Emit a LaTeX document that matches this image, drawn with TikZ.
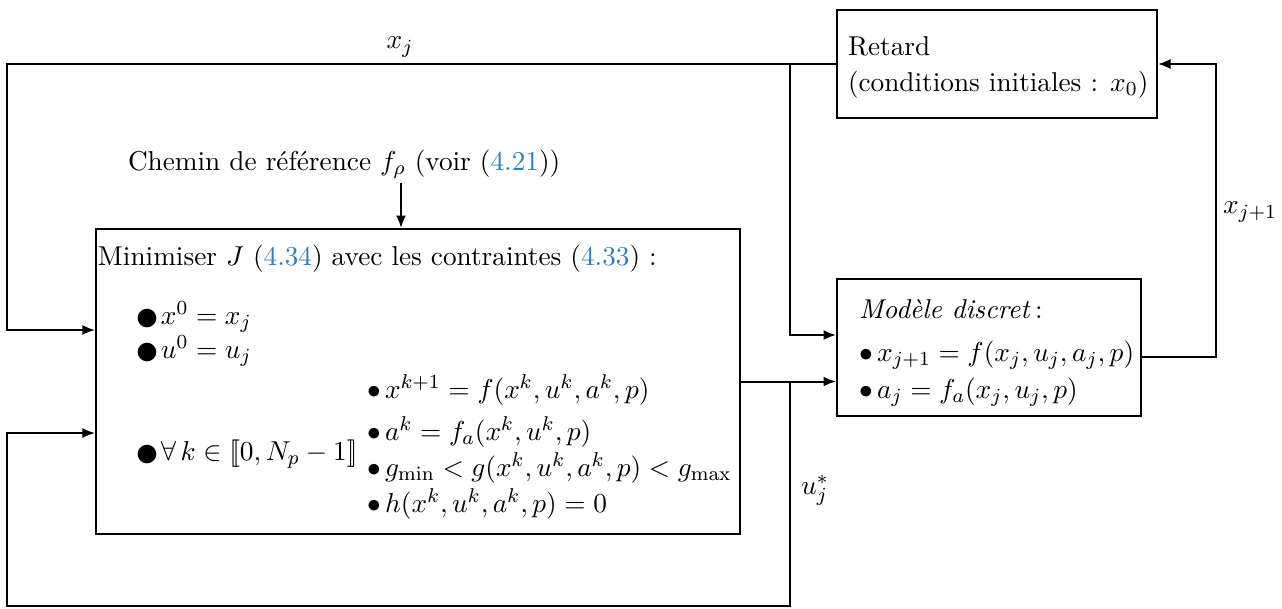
\documentclass[tikz,border=0pt]{standalone}
\usetikzlibrary{arrows.meta}
\definecolor{linkblue}{RGB}{42,128,185}
\newcommand\bigbul{\smash{\raisebox{-2.4pt}{\scalebox{1.75}{$\bullet$}}}\kern0.8pt}
\newcommand\smbul{$\bullet$\kern1.8pt}
\newcommand\lbrk{[\![}
\newcommand\rbrk{]\!]}
\begin{document}
\begin{tikzpicture}[x=0.4pt,y=-0.4pt, line width=0.8pt,
  font=\fontsize{10.9}{13}\selectfont,
  >={Latex[length=5pt,width=4pt]},
  blk/.style={draw, line width=0.8pt, inner sep=0pt},
  txt/.style={inner sep=0pt, anchor=base west},
  lbl/.style={inner sep=0pt}]
\useasboundingbox (0,0) rectangle (1282,608);
% boxes
\node[blk, minimum width=128pt, minimum height=43.2pt] (ret) at (997,64) {};
\node[blk, minimum width=257.6pt, minimum height=122pt] (mini) at (418,381.5) {};
\node[blk, minimum width=121.6pt, minimum height=54.8pt] (mod) at (989,347.5) {};
% texts
\node[txt] (ret1) at (847,55) {Retard};
\node[txt] (ret2) at (847,91) {(conditions initiales : $x_0$)};
\node[txt] (mod1) at (858,318) {\textit{Modèle discret}\,:};
\node[txt] (mod2) at (858,361) {\smbul$x_{j+1}=f(x_j,u_j,a_j,p)$};
\node[txt] (mod3) at (858,398) {\smbul$a_j=f_a(x_j,u_j,p)$};
\node[txt] (m0) at (97,265) {Minimiser $J$ (\textcolor{linkblue}{4.34}) avec les contraintes (\textcolor{linkblue}{4.33})~:};
\node[txt] (m1) at (134,324) {\bigbul$x^0=x_j$};
\node[txt] (m2) at (134,358) {\bigbul$u^0=u_j$};
\node[txt] (m3) at (134,460) {\bigbul$\forall\,k\in\lbrk 0,N_p-1\rbrk$};
\node[txt] (m4) at (366,398) {\smbul$x^{k+1}=f(x^k,u^k,a^k,p)$};
\node[txt] (m5) at (366,440) {\smbul$a^k=f_a(x^k,u^k,p)$};
\node[txt] (m6) at (366,476) {\smbul$g_{\min}<g(x^k,u^k,a^k,p)<g_{\max}$};
\node[txt] (m7) at (366,512) {\smbul$h(x^k,u^k,a^k,p)=0$};
\node[txt] (chemin) at (127,170) {Chemin de référence $f_\rho$ (voir (\textcolor{linkblue}{4.21}))};
% labels
\node[lbl] (lxj) at (400,47) {$x_j$};
\node[lbl] (luj) at (815,490) {$u_j^*$};
\node[lbl] (lxj1) at (1250,212) {$x_{j+1}$};
% coordinates
\coordinate (tl) at (7,64);
\coordinate (tin) at (7,330);
\coordinate (bl) at (7,606);
\coordinate (bin) at (7,433);
\coordinate (j1) at (790,64);
\coordinate (jm) at (790,335);
\coordinate (mo) at (1216,357);
\coordinate (tr) at (1216,64);
\coordinate (ca) at (401,183);
% connectors
\draw[->] (ret.west) -- (tl) -- (tin) -- (mini.west |- tin);
\draw[->] (j1) -- (jm) -- (mod.west |- jm);
\draw[->] (mini.east) -- (mod.west |- mini.east);
\draw[->] (mini.east -| j1) |- (bl) -- (bin) -- (mini.west |- bin);
\draw[->] (mod.east |- mo) -- (mo) -- (tr) -- (ret.east);
\draw[->] (ca) -- (mini.north -| ca);
\end{tikzpicture}
\end{document}
